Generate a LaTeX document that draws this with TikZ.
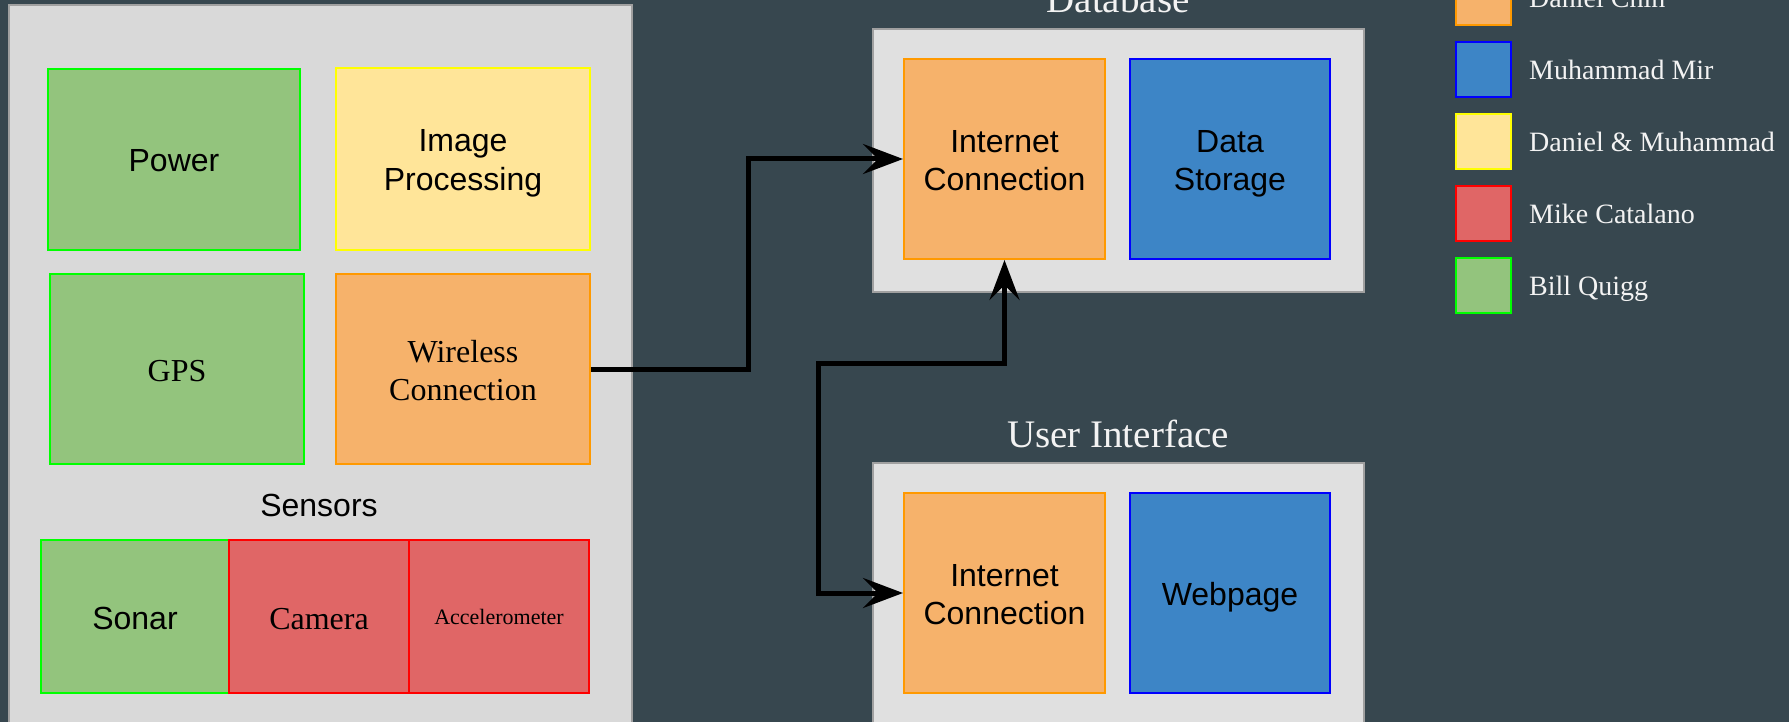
\documentclass[tikz,border=0pt]{standalone}
\usepackage{fontspec}
\setmainfont{Liberation Serif}
\newfontfamily\arialf{Liberation Sans}
\usetikzlibrary{arrows.meta}
\definecolor{bg}{HTML}{37474F}
\definecolor{lpanelfill}{HTML}{D9D9D9}
\definecolor{panelfill}{HTML}{E0E0E0}
\definecolor{panelline}{HTML}{A0A0A0}
\definecolor{gfill}{HTML}{93C47D}\definecolor{gline}{HTML}{00FF00}
\definecolor{yfill}{HTML}{FFE599}\definecolor{yline}{HTML}{FFFF00}
\definecolor{ofill}{HTML}{F6B26B}\definecolor{oline}{HTML}{FF9900}
\definecolor{rfill}{HTML}{E06666}\definecolor{rline}{HTML}{FF0000}
\definecolor{bfill}{HTML}{3D85C6}\definecolor{bline}{HTML}{0000FF}
\definecolor{ltext}{HTML}{F3F3F3}
\newcommand\mystrut{\rule[-6.5pt]{0pt}{38pt}}
\begin{document}
\begin{tikzpicture}[x=1pt,y=-1pt,
  panel/.style={draw=panelline, line width=2pt, inner sep=0pt},
  comp/.style={line width=2pt, inner sep=0pt, align=center, text=black},
  gbox/.style={comp, fill=gfill, draw=gline},
  ybox/.style={comp, fill=yfill, draw=yline},
  obox/.style={comp, fill=ofill, draw=oline},
  rbox/.style={comp, fill=rfill, draw=rline},
  bbox/.style={comp, fill=bfill, draw=bline},
  struts/.style={execute at begin node=\mystrut, execute at end node=\mystrut},
  sansl/.style={struts, font=\arialf\fontsize{32}{38}\selectfont},
  serifl/.style={struts, font=\fontsize{32}{38}\selectfont},
  sansm/.style={font=\arialf\fontsize{32}{38}\selectfont},
  serifm/.style={font=\fontsize{32}{38}\selectfont},
  >={Stealth[length=40pt,width=30pt,inset=15pt]},
  conn/.style={line width=5pt, draw=black},
  legsq/.style={line width=2.5pt, minimum width=55pt, minimum height=55pt, inner sep=0pt},
  legtxt/.style={anchor=base west, text=ltext, inner sep=0pt, font=\fontsize{28}{33}\selectfont},
  title/.style={anchor=base, text=ltext, inner sep=0pt, font=\fontsize{39}{46}\selectfont}
]
\useasboundingbox (0,0) rectangle (1789,722);
\clip (0,0) rectangle (1789,722);
\fill[bg] (0,0) rectangle (1789,722);

% left panel
\node[panel, fill=lpanelfill, minimum width=623pt, minimum height=735pt] (lpanel) at (320.5,372.5) {};
\node[gbox, sansl, minimum width=252pt, minimum height=181pt] (power) at (174,159.5) {Power};
\node[ybox, sansm, minimum width=254pt, minimum height=182pt] (imgproc) at (463,159) {\mystrut Image\\Processing\mystrut};
\node[gbox, serifl, minimum width=254pt, minimum height=190pt] (gps) at (177,369) {GPS};
\node[obox, serifm, minimum width=254pt, minimum height=190pt] (wireless) at (463,369) {\mystrut Wireless\\Connection\mystrut};
\node[inner sep=0pt, font=\arialf\fontsize{32}{38}\selectfont] (sensors) at (319,505) {Sensors};
\node[gbox, sansl, minimum width=188pt, minimum height=153pt] (sonar) at (135,616.5) {Sonar};
\node[rbox, serifl, minimum width=180pt, minimum height=153pt] (camera) at (319,616.5) {Camera};
\node[rbox, font=\fontsize{22}{26}\selectfont, minimum width=180pt, minimum height=153pt] (accel) at (499,616.5) {Accelerometer};

% database panel
\node[panel, fill=panelfill, minimum width=491pt, minimum height=263pt] (dbpanel) at (1118.5,160.5) {};
\node[title] (dbtitle) at (1118,13) {Database};
\node[obox, sansm, minimum width=201pt, minimum height=200pt] (dbinet) at (1004.5,159) {\mystrut Internet\\Connection\mystrut};
\node[bbox, sansm, minimum width=200pt, minimum height=200pt] (dbstore) at (1230,159) {\mystrut Data\\Storage\mystrut};

% user interface panel
\node[panel, fill=panelfill, minimum width=491pt, minimum height=290pt] (uipanel) at (1118.5,608) {};
\node[title] (uititle) at (1118,447) {User Interface};
\node[obox, sansm, minimum width=201pt, minimum height=200pt] (uiinet) at (1004.5,593) {\mystrut Internet\\Connection\mystrut};
\node[bbox, sansl, minimum width=200pt, minimum height=200pt] (webpage) at (1230,593) {Webpage};

% connectors
\draw[conn, ->] (wireless.east) -- ++(157,0) |- (dbinet.west);
\coordinate (jn) at (818,363);
\draw[conn, <->] (uiinet.west) -| (jn) -| (dbinet.south);

% legend
\node[legsq, fill=ofill, draw=oline] (lg1) at (1483.5,-2.5) {};
\node[legsq, fill=bfill, draw=bline] (lg2) at (1483.5,69.5) {};
\node[legsq, fill=yfill, draw=yline] (lg3) at (1483.5,141.5) {};
\node[legsq, fill=rfill, draw=rline] (lg4) at (1483.5,213.5) {};
\node[legsq, fill=gfill, draw=gline] (lg5) at (1483.5,285.5) {};
\node[legtxt] (lt1) at (1529,7.5) {Daniel Chin};
\node[legtxt] (lt2) at (1529,79.5) {Muhammad Mir};
\node[legtxt] (lt3) at (1529,151.5) {Daniel \& Muhammad};
\node[legtxt] (lt4) at (1529,223.5) {Mike Catalano};
\node[legtxt] (lt5) at (1529,295.5) {Bill Quigg};
\end{tikzpicture}
\end{document}
